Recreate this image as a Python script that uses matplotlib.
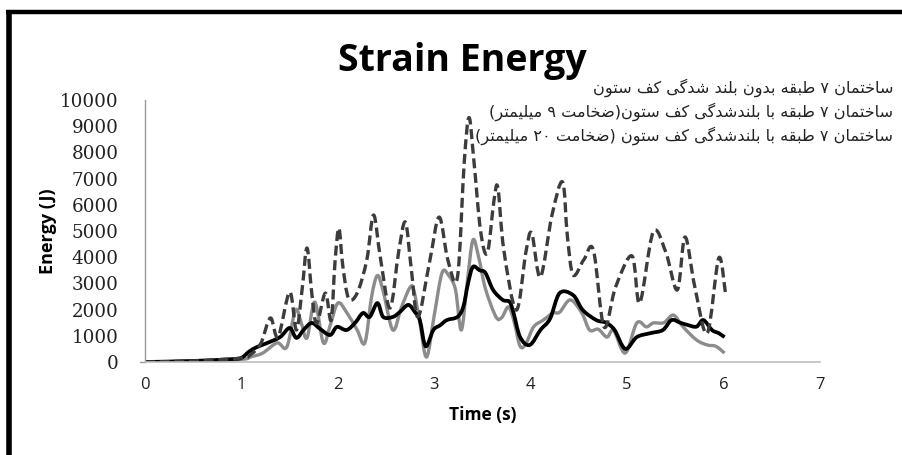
import unicodedata
import matplotlib
matplotlib.use("Agg")
import matplotlib.pyplot as plt
from matplotlib.lines import Line2D
from matplotlib.path import Path
from matplotlib.patches import PathPatch

# ---- data ----
t_dash = [0, 0.5, 1.0, 1.1, 1.2, 1.30, 1.38, 1.50, 1.57, 1.63, 1.68, 1.73, 1.78, 1.87, 1.93,
          1.97, 2.01, 2.05, 2.11, 2.20, 2.30, 2.37, 2.44, 2.54, 2.63, 2.70, 2.76, 2.83, 2.95,
          3.05, 3.14, 3.24, 3.31, 3.36, 3.41, 3.48, 3.55, 3.62, 3.66, 3.72, 3.85, 3.95, 4.01,
          4.10, 4.22, 4.33, 4.38, 4.44, 4.55, 4.65, 4.76, 4.88, 5.05, 5.13, 5.27, 5.40, 5.52,
          5.60, 5.70, 5.83, 5.95, 6.02]
e_dash = [0, 40, 150, 300, 700, 1680, 950, 2670, 1220, 2800, 4350, 2600, 1480, 2630, 1600,
          3800, 5110, 3700, 2440, 2630, 3900, 5610, 4000, 2060, 4200, 5340, 3600, 1720, 3800,
          5530, 3900, 3240, 7600, 9330, 7700, 5000, 4160, 6200, 6640, 4300, 1980, 4200, 4920,
          3240, 5600, 6870, 4800, 3320, 3900, 4270, 1340, 2860, 4050, 2250, 4960, 4200, 2750,
          4770, 2900, 1100, 3970, 2600]

t_black = [0, 0.5, 0.9, 1.0, 1.08, 1.16, 1.25, 1.40, 1.50, 1.57, 1.65, 1.73, 1.82, 1.92, 1.99,
           2.09, 2.18, 2.26, 2.33, 2.41, 2.47, 2.57, 2.64, 2.73, 2.80, 2.85, 2.91, 2.99, 3.06,
           3.13, 3.24, 3.30, 3.35, 3.40, 3.47, 3.53, 3.61, 3.71, 3.78, 3.82, 3.89, 3.99, 4.10,
           4.20, 4.30, 4.44, 4.54, 4.68, 4.78, 4.87, 4.98, 5.10, 5.24, 5.37, 5.46, 5.55, 5.63,
           5.72, 5.79, 5.88, 5.95, 6.01]
e_black = [0, 40, 110, 160, 400, 570, 700, 950, 1300, 920, 1250, 1490, 1250, 1030, 1340,
           1220, 1500, 1870, 1720, 2250, 1720, 1720, 1900, 2180, 1900, 1600, 600, 1220, 1400,
           1600, 1720, 2100, 3000, 3630, 3500, 3400, 2750, 2370, 2300, 1900, 950, 650, 1220,
           1650, 2630, 2550, 1980, 1600, 1500, 1220, 500, 950, 1100, 1220, 1600, 1500, 1410,
           1350, 1600, 1220, 1100, 950]

t_gray = [0, 0.5, 1.0, 1.1, 1.22, 1.37, 1.47, 1.56, 1.62, 1.68, 1.76, 1.85, 1.92, 2.00, 2.09,
          2.20, 2.28, 2.35, 2.41, 2.47, 2.57, 2.66, 2.75, 2.79, 2.85, 2.92, 3.00, 3.08, 3.15,
          3.22, 3.28, 3.34, 3.40, 3.46, 3.53, 3.64, 3.70, 3.77, 3.83, 3.89, 3.95, 4.03, 4.13,
          4.23, 4.30, 4.41, 4.53, 4.61, 4.70, 4.79, 4.86, 4.98, 5.10, 5.20, 5.27, 5.38, 5.48,
          5.58, 5.72, 5.83, 5.92, 6.01]
e_gray = [0, 30, 100, 200, 340, 730, 570, 1980, 1500, 920, 2290, 730, 1400, 2250, 1900,
          1220, 730, 2500, 3300, 2700, 1220, 2100, 2860, 2700, 1500, 190, 1800, 3400, 3300,
          2750, 1220, 3000, 4650, 4000, 2800, 1720, 1700, 2100, 1500, 600, 700, 1340, 1600,
          1870, 1900, 2370, 1870, 1220, 1250, 950, 1200, 340, 1490, 1340, 1490, 1500, 1790,
          1340, 840, 650, 600, 340]

labels = ["ساختمان ۷ طبقه بدون بلند شدگی کف ستون",
          "ساختمان ۷ طبقه با بلندشدگی کف ستون(ضخامت ۹ میلیمتر)",
          "ساختمان ۷ طبقه با بلندشدگی کف ستون (ضخامت ۲۰ میلیمتر)"]

y_ticks = list(range(0, 10001, 1000))
x_ticks = list(range(0, 8))


# matplotlib does no Arabic shaping, so pick presentation forms by hand
def shape_fa(s):
    def forms(ch):
        try:
            name = unicodedata.name(ch)
        except ValueError:
            return None
        if not name.startswith("ARABIC LETTER"):
            return None
        f = {}
        for k in ("ISOLATED", "FINAL", "INITIAL", "MEDIAL"):
            try:
                f[k] = unicodedata.lookup(name + " " + k + " FORM")
            except KeyError:
                pass
        return f

    fs = [forms(c) for c in s]
    out = []
    for i, c in enumerate(s):
        f = fs[i]
        if not f:
            out.append(c)
            continue
        prev = fs[i - 1] if i > 0 else None
        nxt = fs[i + 1] if i + 1 < len(s) else None
        jp = bool(prev) and "INITIAL" in prev
        jn = "INITIAL" in f and bool(nxt)
        if jp and jn:
            k = "MEDIAL"
        elif jp:
            k = "FINAL"
        elif jn:
            k = "INITIAL"
        else:
            k = "ISOLATED"
        out.append(f.get(k, f.get("ISOLATED", c)))
    # visual order: reverse, keep digit runs, mirror brackets
    mirror = {"(": ")", ")": "("}
    tokens = []
    for c in out:
        if c.isdigit() and tokens and tokens[-1].isdigit():
            tokens[-1] += c
        else:
            tokens.append(mirror.get(c, c))
    return "".join(reversed(tokens))


# smoothed line like Excel's, drawn as bezier segments through the points
def smooth_line(ax, x, y, **kw):
    verts = [(x[0], y[0])]
    codes = [Path.MOVETO]
    n = len(x)
    for i in range(n - 1):
        x0, y0 = (x[i - 1], y[i - 1]) if i > 0 else (x[i], y[i])
        x3, y3 = (x[i + 2], y[i + 2]) if i + 2 < n else (x[i + 1], y[i + 1])
        c1 = (x[i] + (x[i + 1] - x0) / 6, y[i] + (y[i + 1] - y0) / 6)
        c2 = (x[i + 1] - (x3 - x[i]) / 6, y[i + 1] - (y3 - y[i]) / 6)
        verts += [c1, c2, (x[i + 1], y[i + 1])]
        codes += [Path.CURVE4] * 3
    ax.add_patch(PathPatch(Path(verts, codes), fill=False, joinstyle="round", **kw))


fig = plt.figure(figsize=(9.03, 4.55), dpi=100)
ax = fig.add_axes([0.1606, 0.2044, 0.7475, 0.5758])

smooth_line(ax, t_gray, e_gray, edgecolor="#8c8c8c", lw=2.4)
smooth_line(ax, t_black, e_black, edgecolor="black", lw=2.7)
smooth_line(ax, t_dash, e_dash, edgecolor="#3c3c3c", lw=2.4, linestyle=(0, (3, 1.4)))

ax.set_xlim(0, 7)
ax.set_ylim(0, 10000)
ax.set_xticks(x_ticks)
ax.set_yticks(y_ticks)
ax.tick_params(axis="x", length=0, pad=11, labelsize=12, labelcolor="#222222")
ax.tick_params(axis="y", length=0, pad=19, labelsize=13.2, labelcolor="#222222")
for lab in ax.get_xticklabels():
    lab.set_family("Open Sans")
for lab in ax.get_yticklabels():
    lab.set_family("DejaVu Serif")

for side in ("top", "right"):
    ax.spines[side].set_visible(False)
ax.spines["left"].set_color("#9a9a9a")
ax.spines["bottom"].set_color("#bdbdbd")
ax.spines["left"].set_linewidth(1)
ax.spines["bottom"].set_linewidth(1.2)
ax.plot([-0.05, 0], [0, 0], color="#9a9a9a", lw=1, clip_on=False)

ax.set_xlabel("Time (s)", family="Open Sans", fontweight="bold", fontsize=12.5, labelpad=9)
ax.set_ylabel("Energy (J)", family="Open Sans", fontweight="bold", fontsize=13)
ax.yaxis.set_label_coords(-0.13, 0.5)

fig.text(0.512, 0.865, "Strain Energy", family="Open Sans", fontweight="bold",
         fontsize=27, ha="center", va="center")

for i, lab in enumerate(labels):
    fig.text(0.989, 0.808 - i * 0.053, shape_fa(lab), family="DejaVu Sans",
             fontsize=11.6, ha="right", va="center", color="#222222")

# thick black frame on the left and top
fig.add_artist(Line2D([0.0095, 0.0095], [0, 0.977], color="black", lw=4,
                      transform=fig.transFigure, solid_capstyle="butt"))
fig.add_artist(Line2D([0.007, 1.0], [0.974, 0.974], color="black", lw=3.2,
                      transform=fig.transFigure, solid_capstyle="butt"))

fig.savefig("out.png", dpi=100)
